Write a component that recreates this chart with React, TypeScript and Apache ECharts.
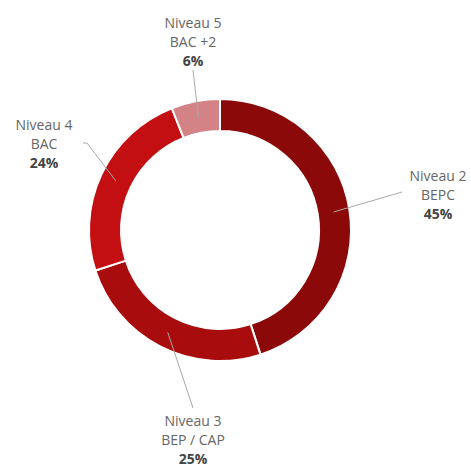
import React, { useEffect, useRef } from "react";
import * as echarts from "echarts";

const levels = ["Niveau 2", "Niveau 3", "Niveau 4", "Niveau 5"];
const diplomas = ["BEPC", "BEP / CAP", "BAC", "BAC +2"];
const shares = [45, 25, 24, 6];
const colors = ["#8b0909", "#a80c0d", "#c30f12", "#d38386"];

// label layout (position of each label block and the end/bend of its guide line)
const labelCenters = [
  [438, 194],
  [193, 439],
  [44, 143],
  [193, 41],
];
const lineBends = [
  [402, 192],
  [193, 408],
  [87, 143],
  [193, 70],
];
const lineEnds = [
  [402, 192],
  [193, 408],
  [83, 143],
  [193, 70],
];

export default function App() {
  const ref = useRef<HTMLDivElement>(null);
  useEffect(() => {
    if (!ref.current) return;
    const chart = echarts.init(ref.current, undefined, { renderer: "svg" });
    const data = levels.map((l, i) => ({
      name: l,
      value: shares[i],
      itemStyle: { color: colors[i] },
    }));
    chart.setOption({
      animation: false,
      backgroundColor: "#ffffff",
      series: [
        {
          type: "pie",
          center: [220, 230],
          radius: [99, 131],
          startAngle: 90,
          clockwise: true,
          avoidLabelOverlap: false,
          silent: true,
          label: { show: false },
          labelLine: { show: false },
          itemStyle: { borderColor: "#ffffff", borderWidth: 2 },
          emphasis: { disabled: true },
          data,
          z: 2,
        },
        {
          type: "pie",
          center: [220, 230],
          radius: [0, 115],
          startAngle: 90,
          clockwise: true,
          avoidLabelOverlap: false,
          silent: true,
          z: 3,
          itemStyle: { color: "rgba(0,0,0,0)", borderWidth: 0 },
          emphasis: { disabled: true },
          data: levels.map((l, i) => ({ name: l, value: shares[i] })),
          label: {
            show: true,
            position: "outside",
            fontFamily: "Open Sans",
            formatter: (p: any) =>
              `{n|${levels[p.dataIndex]}}\n{n|${diplomas[p.dataIndex]}}\n{p|${shares[p.dataIndex]}%}`,
            rich: {
              n: {
                fontFamily: "Open Sans",
                fontSize: 14,
                color: "#666666",
                lineHeight: 19,
                align: "center",
              },
              p: {
                fontFamily: "Open Sans",
                fontSize: 14,
                fontWeight: "bold",
                color: "#444444",
                lineHeight: 19,
                align: "center",
              },
            },
          },
          labelLine: {
            show: true,
            length: 20,
            length2: 10,
            lineStyle: { color: "#a8a8a8", width: 1 },
          },
          labelLayout: (params: any) => {
            const i = params.dataIndex;
            const pts = params.labelLinePoints;
            const start = pts ? pts[0] : lineBends[i];
            return {
              x: labelCenters[i][0],
              y: labelCenters[i][1],
              align: "center",
              verticalAlign: "middle",
              labelLinePoints: [
                [start[0], start[1]],
                [lineBends[i][0], lineBends[i][1]],
                [lineEnds[i][0], lineEnds[i][1]],
              ],
            };
          },
        },
      ],
    });
    return () => chart.dispose();
  }, []);
  return (
    <div
      ref={ref}
      style={{ position: "fixed", left: 0, top: 0, width: 471, height: 466 }}
    />
  );
}
